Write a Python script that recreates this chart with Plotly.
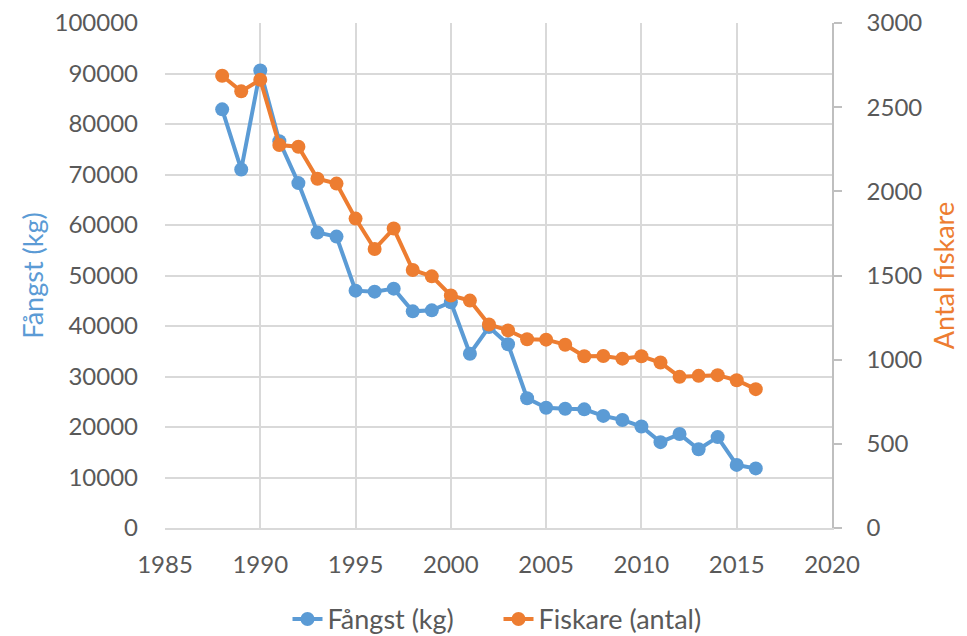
import plotly.graph_objects as go

years = list(range(1988, 2017))
fangst_kg = [82900, 71000, 90600, 76600, 68300, 58500, 57700, 47000, 46800, 47400,
             42900, 43100, 44700, 34500, 39800, 36400, 25700, 23800, 23600, 23500,
             22200, 21400, 20100, 17000, 18600, 15600, 18000, 12500, 11800]
fiskare_antal = [2687, 2594, 2663, 2275, 2265, 2075, 2046, 1838, 1657, 1779,
                 1533, 1495, 1381, 1351, 1209, 1174, 1121, 1119, 1089, 1020,
                 1022, 1006, 1020, 983, 898, 904, 908, 878, 825]

BLUE = "#5B9BD5"
ORANGE = "#ED7D31"
GRID = "#D9D9D9"
TXT = "#595959"
FONT = "Lato"
FS = 24   # tick labels
FT = 27   # titles / legend

fig = go.Figure()
fig.add_trace(go.Scatter(x=years, y=fangst_kg, name="Fångst (kg)", mode="lines+markers",
                         line=dict(color=BLUE, width=4), marker=dict(color=BLUE, size=14),
                         yaxis="y"))
fig.add_trace(go.Scatter(x=years, y=fiskare_antal, name="Fiskare (antal)", mode="lines+markers",
                         line=dict(color=ORANGE, width=4), marker=dict(color=ORANGE, size=14),
                         yaxis="y2"))

fig.update_layout(
    width=959, height=628,
    margin=dict(l=157, r=135, t=15, b=108, autoexpand=False),
    paper_bgcolor="white", plot_bgcolor="white",
    font=dict(family=FONT, size=FS, color=TXT),
    showlegend=True,
    legend=dict(orientation="h", x=0.5, xanchor="center", y=-0.181, yanchor="middle",
                entrywidth=166, entrywidthmode="pixels",
                font=dict(size=FT, color=TXT)),
    xaxis=dict(range=[1985, 2020], dtick=5, tick0=1985, showgrid=True, gridcolor=GRID,
               gridwidth=1.5, zeroline=False, showline=True, linecolor=GRID, linewidth=1.5,
               ticks="", tickfont=dict(size=FS, color=TXT), ticklabelstandoff=14,
               automargin=False, ticklabeloverflow="allow"),
    yaxis=dict(range=[0, 100000], dtick=10000, tickformat="d", showgrid=True, gridcolor=GRID,
               gridwidth=1.5, zeroline=False, showline=False, ticks="",
               tickfont=dict(size=FS, color=TXT), ticklabelstandoff=26, automargin=False,
               ticklabeloverflow="allow",
               title=dict(text="Fångst (kg)", font=dict(size=FT, color=BLUE), standoff=3)),
    yaxis2=dict(range=[0, 3000], dtick=500, tickformat="d", overlaying="y", side="right",
                showgrid=False, zeroline=False, showline=True, linecolor="#BFBFBF", linewidth=1.5,
                ticks="outside", ticklen=8, tickcolor="#BFBFBF", tickwidth=1.5,
                tickfont=dict(size=FS, color=TXT), ticklabelstandoff=20, automargin=False,
                ticklabeloverflow="allow",
                title=dict(text="Antal fiskare", font=dict(size=FT, color=ORANGE), standoff=14)),
)

fig.write_html("out.html")
